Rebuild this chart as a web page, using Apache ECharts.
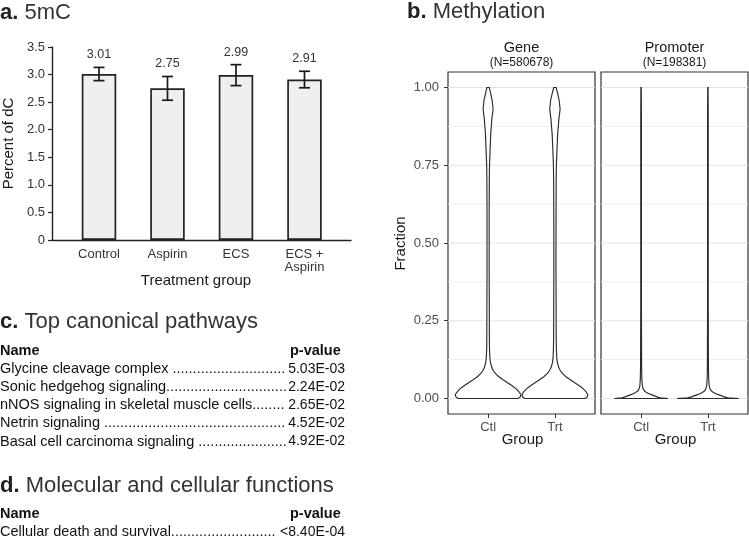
<!DOCTYPE html>
<html><head><meta charset="utf-8">
<script src="https://cdn.jsdelivr.net/npm/echarts@6/dist/echarts.min.js"></script>
<style>html,body{margin:0;padding:0;background:#fff}#c{width:749px;height:539px}</style>
</head><body><div id="c"></div>
<script>
// ---------- Panel a: 5mC ----------
const treatGroups = ['Control', 'Aspirin', 'ECS', 'ECS +\nAspirin'];
const pctDC = [3.01, 2.75, 2.99, 2.91];
const pctErr = [0.12, 0.215, 0.19, 0.15];
const pctMax = 3.5;
const pctStep = 0.5;

// ---------- Panel b: Methylation ----------
const methGroups = ['Ctl', 'Trt'];
const facetNames = ['Gene', 'Promoter'];
const facetN = ['(N=580678)', '(N=198381)'];
const fractionTicks = [0, 0.25, 0.5, 0.75, 1];
const fractionMinor = [0.125, 0.375, 0.625, 0.875];
// violin outlines: fraction values and half-widths (in x-axis category units)
const geneY      = [0, 0.005, 0.012, 0.02, 0.03, 0.04, 0.05, 0.06, 0.07, 0.08, 0.09, 0.1, 0.115, 0.13, 0.16, 0.2, 0.3, 0.4, 0.5, 0.6, 0.7, 0.75, 0.8, 0.85, 0.9, 0.93, 0.96, 0.98, 1.0];
const geneCtlW   = [0.447, 0.481, 0.492, 0.469, 0.425, 0.365, 0.298, 0.224, 0.161, 0.112, 0.077, 0.054, 0.036, 0.027, 0.021, 0.019, 0.018, 0.016, 0.016, 0.016, 0.018, 0.021, 0.030, 0.039, 0.057, 0.075, 0.060, 0.040, 0.018];
const geneTrtW   = [0.450, 0.484, 0.492, 0.472, 0.430, 0.370, 0.303, 0.230, 0.166, 0.115, 0.080, 0.056, 0.037, 0.028, 0.022, 0.019, 0.018, 0.016, 0.016, 0.017, 0.019, 0.022, 0.031, 0.041, 0.060, 0.078, 0.063, 0.042, 0.018];
const promY      = [0, 0.002, 0.005, 0.009, 0.013, 0.018, 0.024, 0.03, 0.04, 0.06, 0.1, 0.3, 0.5, 0.7, 0.9, 1.0];
const promCtlW   = [0.402, 0.283, 0.238, 0.194, 0.142, 0.089, 0.052, 0.033, 0.019, 0.012, 0.008, 0.005, 0.005, 0.005, 0.005, 0.003];
const promTrtW   = [0.462, 0.300, 0.245, 0.198, 0.145, 0.091, 0.053, 0.033, 0.019, 0.012, 0.008, 0.005, 0.005, 0.005, 0.005, 0.003];

// ---------- Panel c / d: tables ----------
const pathwayNames = ['Glycine cleavage complex ', 'Sonic hedgehog signaling', 'nNOS signaling in skeletal muscle cells', 'Netrin signaling ', 'Basal cell carcinoma signaling '];
const pathwayP = ['5.03E-03', '2.24E-02', '2.65E-02', '4.52E-02', '4.92E-02'];
const functionNames = ['Cellular death and survival'];
const functionP = ['<8.40E-04'];

// ---------- helpers ----------
const FF = '"Liberation Sans", Arial, Helvetica, sans-serif';
const TXT = '#333333';
const mctx = document.createElement('canvas').getContext('2d');
function textW(s, size, weight) { mctx.font = (weight || 'normal') + ' ' + size + 'px ' + FF; return mctx.measureText(s).width; }
function leader(name, size, target) {
  const dw = textW('.', size);
  const n = Math.floor((target - textW(name, size)) / dw);
  return name + '.'.repeat(Math.max(0, n));
}
function txt(x, y, s, opt) {
  opt = opt || {};
  return {
    type: 'text', x: x, y: y, rotation: opt.rot || 0, silent: true,
    style: {
      text: s, fontFamily: FF, fontSize: opt.size || 13, fontWeight: opt.weight || 'normal',
      fill: opt.color || TXT, align: opt.align || 'left', verticalAlign: 'middle',
      rich: opt.rich
    }
  };
}
function title(x, y, letter, rest) {
  return txt(x, y, '{b|' + letter + '} ' + rest, { size: 22, color: '#333', rich: { b: { fontWeight: 'bold', fontSize: 22, fontFamily: FF, fill: '#222' } } });
}

const graphics = [];
graphics.push(title(0, 13, 'a.', '5mC'));
graphics.push(title(407, 12, 'b.', 'Methylation'));
graphics.push(title(0, 322, 'c.', 'Top canonical pathways'));
graphics.push(title(0, 486, 'd.', 'Molecular and cellular functions'));
// axis titles
graphics.push(txt(196, 281, 'Treatment group', { size: 15, align: 'center', color: '#1a1a1a' }));
graphics.push(txt(9, 143.5, 'Percent of dC', { size: 15, align: 'center', rot: Math.PI / 2, color: '#1a1a1a' }));
graphics.push(txt(401, 243.5, 'Fraction', { size: 15, align: 'center', rot: Math.PI / 2, color: '#1a1a1a' }));
const facetCx = [521.5, 674.5];
facetCx.forEach((cx, i) => {
  graphics.push(txt(cx, 48, facetNames[i], { size: 14.5, align: 'center', color: '#1a1a1a' }));
  graphics.push(txt(cx, 63, facetN[i], { size: 12, align: 'center', color: '#1a1a1a' }));
  graphics.push(txt(cx + 1, 439.5, 'Group', { size: 15, align: 'center', color: '#1a1a1a' }));
});
// tables
function table(yHead, names, ps) {
  const valRight = 345, headLeft = 290, step = 18.2;
  graphics.push(txt(0, yHead, 'Name', { size: 14.5, weight: 'bold', color: '#111' }));
  graphics.push(txt(headLeft, yHead, 'p-value', { size: 14.5, weight: 'bold', color: '#111' }));
  names.forEach((nm, i) => {
    const y = yHead + step * (i + 1);
    const pStart = valRight - textW(ps[i], 14);
    graphics.push(txt(0, y, leader(nm, 14.5, pStart - 0.5), { size: 14.5, color: '#111' }));
    graphics.push(txt(valRight, y, ps[i], { size: 14, align: 'right', color: '#111' }));
  });
}
table(350.5, pathwayNames, pathwayP);
table(513.5, functionNames, functionP);

// ---------- option ----------
const GX = [0.4, 2.6];
const violins = [
  { grid: 1, x: 1, ys: geneY, ws: geneCtlW },
  { grid: 1, x: 2, ys: geneY, ws: geneTrtW },
  { grid: 2, x: 1, ys: promY, ws: promCtlW },
  { grid: 2, x: 2, ys: promY, ws: promTrtW }
];
function violinSeries(gi) {
  const list = violins.filter(v => v.grid === gi);
  return {
    type: 'custom', xAxisIndex: gi, yAxisIndex: gi, z: 3, silent: true, clip: false,
    data: list.map(v => [v.x, 0]),
    renderItem: (params, api) => {
      const v = list[params.dataIndex];
      const L = [], R = [];
      v.ys.forEach((y, k) => {
        L.push(api.coord([v.x - v.ws[k], y]));
        R.push(api.coord([v.x + v.ws[k], y]));
      });
      return { type: 'polygon', shape: { points: L.concat(R.reverse()), smooth: 0 },
        style: { fill: '#ffffff', stroke: '#2b2b2b', lineWidth: 1.15 } };
    }
  };
}
function gridLineSeries(gi) {
  const vals = fractionTicks.map(v => [v, 1]).concat(fractionMinor.map(v => [v, 0]));
  return {
    type: 'custom', xAxisIndex: gi, yAxisIndex: gi, z: 1, silent: true,
    data: vals.map(d => [GX[0], d[0], d[1]]),
    renderItem: (params, api) => {
      const y = api.value(1), major = api.value(2);
      const a = api.coord([GX[0], y]), b = api.coord([GX[1], y]);
      return { type: 'line', shape: { x1: a[0], y1: a[1], x2: b[0], y2: b[1] },
        style: { stroke: major ? '#e3e3e3' : '#ececec', lineWidth: major ? 1.1 : 0.9 } };
    }
  };
}
const facetGrid = (left) => ({ left: left, top: 72, width: 147, height: 342, show: true, borderColor: '#333', borderWidth: 1.2, backgroundColor: '#fff', containLabel: false, outerBoundsMode: 'none' });
const facetX = (gi) => ({
  type: 'value', gridIndex: gi, min: GX[0], max: GX[1], position: 'bottom',
  axisLine: { show: false, onZero: false }, splitLine: { show: false },
  axisTick: { show: true, customValues: [1, 2], length: 4, lineStyle: { color: '#333', width: 1 } },
  axisLabel: { customValues: [1, 2], formatter: v => methGroups[Math.round(v) - 1], fontFamily: FF, fontSize: 13, color: '#4d4d4d', margin: 7 }
});
const facetY = (gi, showLab) => ({
  type: 'value', gridIndex: gi, min: -0.05, max: 1.05, position: 'left',
  axisLine: { show: false, onZero: false }, splitLine: { show: false },
  axisTick: { show: showLab, customValues: fractionTicks, length: 4, lineStyle: { color: '#333', width: 1 } },
  axisLabel: { show: showLab, customValues: fractionTicks, formatter: v => v.toFixed(2), fontFamily: FF, fontSize: 13, color: '#4d4d4d', margin: 9 }
});

const option = {
  animation: false,
  backgroundColor: '#ffffff',
  textStyle: { fontFamily: FF },
  grid: [
    { left: 52, top: 47, width: 299, height: 193, containLabel: false, outerBoundsMode: 'none' },
    facetGrid(448),
    facetGrid(601)
  ],
  xAxis: [
    {
      type: 'value', gridIndex: 0, min: -0.686, max: 3.679, position: 'bottom',
      axisLine: { show: true, onZero: false, lineStyle: { color: '#222', width: 1.4 } },
      axisTick: { show: false }, splitLine: { show: false },
      axisLabel: { customValues: [0, 1, 2, 3], formatter: v => treatGroups[Math.round(v)], fontFamily: FF, fontSize: 13, lineHeight: 13, color: '#333', margin: 7.5 }
    },
    facetX(1), facetX(2)
  ],
  yAxis: [
    {
      type: 'value', gridIndex: 0, min: 0, max: pctMax, interval: pctStep, position: 'left',
      axisLine: { show: true, onZero: false, lineStyle: { color: '#222', width: 1.4 } },
      axisTick: { show: true, length: 4, lineStyle: { color: '#222', width: 1.2 } },
      splitLine: { show: false },
      axisLabel: { formatter: v => v === 0 ? '0' : v.toFixed(1), fontFamily: FF, fontSize: 13, color: '#333', margin: 7 }
    },
    facetY(1, true), facetY(2, false)
  ],
  series: [
    {
      type: 'bar', xAxisIndex: 0, yAxisIndex: 0, barWidth: 34.5, silent: true, z: 2,
      data: pctDC.map((v, i) => [i, v]),
      itemStyle: { color: '#efefef', borderColor: '#222', borderWidth: 1.7 }
    },
    {
      type: 'custom', xAxisIndex: 0, yAxisIndex: 0, z: 3, silent: true, clip: false,
      data: pctDC.map((v, i) => [i, v - pctErr[i], v + pctErr[i], v]),
      renderItem: (params, api) => {
        const x = api.value(0);
        const lo = api.coord([x, api.value(1)]), hi = api.coord([x, api.value(2)]);
        const cap = 5.5, st = { stroke: '#1a1a1a', lineWidth: 1.7 };
        return { type: 'group', children: [
          { type: 'line', shape: { x1: lo[0], y1: lo[1], x2: hi[0], y2: hi[1] }, style: st },
          { type: 'line', shape: { x1: hi[0] - cap, y1: hi[1], x2: hi[0] + cap, y2: hi[1] }, style: st },
          { type: 'line', shape: { x1: lo[0] - cap, y1: lo[1], x2: lo[0] + cap, y2: lo[1] }, style: st },
          { type: 'text', x: hi[0], y: hi[1] - 12.5, style: { text: api.value(3).toFixed(2), fontFamily: FF, fontSize: 12.5, fill: '#333', align: 'center', verticalAlign: 'middle' } }
        ] };
      }
    },
    gridLineSeries(1), gridLineSeries(2),
    violinSeries(1), violinSeries(2)
  ],
  graphic: graphics
};
const chart = echarts.init(document.getElementById('c'), null, { renderer: 'canvas' });
chart.setOption(option);
</script>
</body></html>
